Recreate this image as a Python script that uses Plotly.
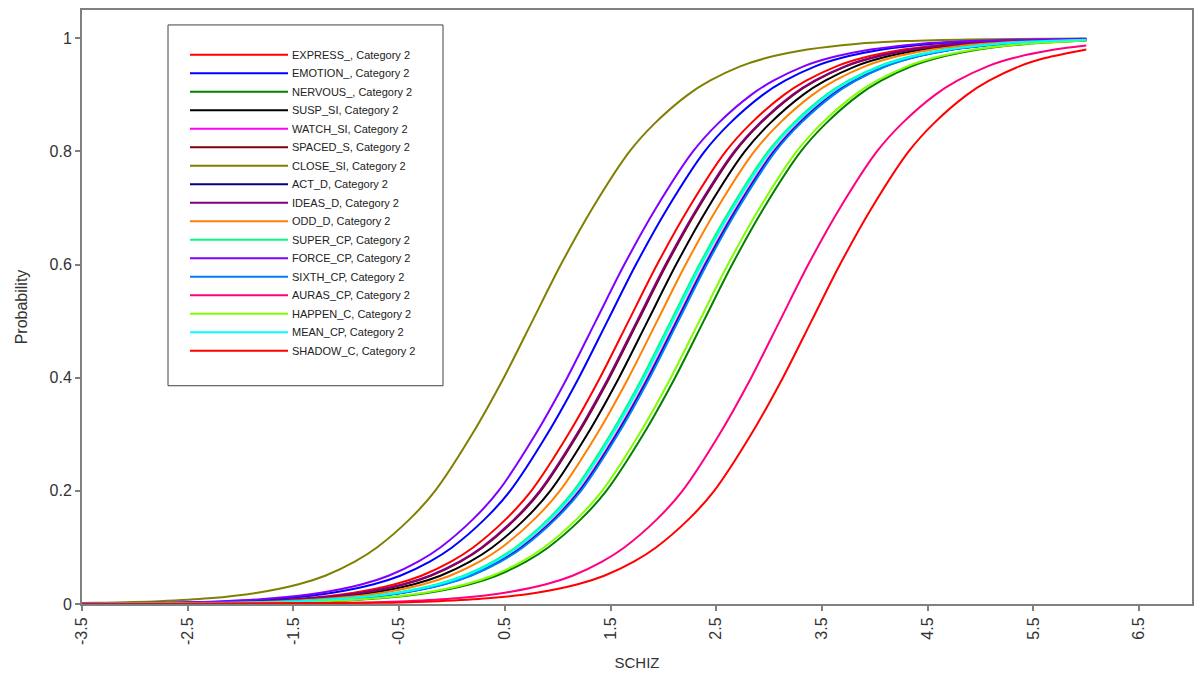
import plotly.graph_objects as go

# ---------------- data ----------------
SERIES = ["EXPRESS_", "EMOTION_", "NERVOUS_", "SUSP_SI", "WATCH_SI", "SPACED_S",
          "CLOSE_SI", "ACT_D", "IDEAS_D", "ODD_D", "SUPER_CP", "FORCE_CP",
          "SIXTH_CP", "AURAS_CP", "HAPPEN_C", "MEAN_CP", "SHADOW_C"]
COLORS = ["#FF0000", "#0000FF", "#008000", "#000000", "#FF00FF", "#800000",
          "#808000", "#000080", "#800080", "#FF8000", "#00FF80", "#8000FF",
          "#0080FF", "#FF0080", "#80FF00", "#00FFFF", "#FF0000"]

# probability levels, and the SCHIZ value at which each curve reaches them
P_LEVELS = [0.002, 0.005, 0.01, 0.02, 0.035, 0.05, 0.075, 0.1, 0.15, 0.2, 0.3, 0.4, 0.5,
            0.6, 0.7, 0.8, 0.85, 0.9, 0.925, 0.95, 0.965, 0.98, 0.99, 0.995, 0.998]

X_EXPRESS = [-2.47, -1.86, -1.39, -0.93, -0.54, -0.29, -0.01, 0.20, 0.51, 0.75, 1.10, 1.40, 1.67,
             1.94, 2.24, 2.59, 2.83, 3.14, 3.35, 3.63, 3.88, 4.27, 4.73, 5.20, 5.81]
X_EMOTION = [-2.67, -2.06, -1.59, -1.13, -0.74, -0.49, -0.21, 0.00, 0.31, 0.55, 0.90, 1.20, 1.47,
             1.74, 2.04, 2.39, 2.63, 2.94, 3.15, 3.43, 3.68, 4.07, 4.53, 5.00, 5.61]
X_NERVOUS = [-1.76, -1.15, -0.68, -0.22, 0.17, 0.42, 0.70, 0.91, 1.22, 1.46, 1.81, 2.11, 2.38,
             2.65, 2.95, 3.30, 3.54, 3.85, 4.06, 4.34, 4.59, 4.98, 5.44, 5.91, 6.52]
X_SUSP = [-2.29, -1.68, -1.21, -0.75, -0.36, -0.11, 0.17, 0.38, 0.69, 0.93, 1.28, 1.58, 1.85,
          2.12, 2.42, 2.77, 3.01, 3.32, 3.53, 3.81, 4.06, 4.45, 4.91, 5.38, 5.99]
X_WATCH = [-2.02, -1.41, -0.94, -0.48, -0.09, 0.16, 0.44, 0.65, 0.96, 1.20, 1.55, 1.85, 2.12,
           2.39, 2.69, 3.04, 3.28, 3.59, 3.80, 4.08, 4.33, 4.72, 5.18, 5.65, 6.26]
X_SPACED = [-2.38, -1.77, -1.30, -0.84, -0.45, -0.20, 0.08, 0.29, 0.60, 0.84, 1.19, 1.49, 1.76,
            2.03, 2.33, 2.68, 2.92, 3.23, 3.44, 3.72, 3.97, 4.36, 4.82, 5.29, 5.90]
X_CLOSE = [-3.38, -2.77, -2.30, -1.84, -1.45, -1.20, -0.92, -0.71, -0.40, -0.16, 0.19, 0.49, 0.76,
           1.03, 1.33, 1.68, 1.92, 2.23, 2.44, 2.72, 2.97, 3.36, 3.82, 4.29, 4.90]
X_ACT = [-2.01, -1.40, -0.93, -0.47, -0.08, 0.17, 0.45, 0.66, 0.97, 1.21, 1.56, 1.86, 2.13,
         2.40, 2.70, 3.05, 3.29, 3.60, 3.81, 4.09, 4.34, 4.73, 5.19, 5.66, 6.27]
X_IDEAS = [-2.39, -1.78, -1.31, -0.85, -0.46, -0.21, 0.07, 0.28, 0.59, 0.83, 1.18, 1.48, 1.75,
           2.02, 2.32, 2.67, 2.91, 3.22, 3.43, 3.71, 3.96, 4.35, 4.81, 5.28, 5.89]
X_ODD = [-2.20, -1.59, -1.12, -0.66, -0.27, -0.02, 0.26, 0.47, 0.78, 1.02, 1.37, 1.67, 1.94,
         2.21, 2.51, 2.86, 3.10, 3.41, 3.62, 3.90, 4.15, 4.54, 5.00, 5.47, 6.08]
X_SUPER = [-2.07, -1.46, -0.99, -0.53, -0.14, 0.11, 0.39, 0.60, 0.91, 1.15, 1.50, 1.80, 2.07,
           2.34, 2.64, 2.99, 3.23, 3.54, 3.75, 4.03, 4.28, 4.67, 5.13, 5.60, 6.21]
X_FORCE = [-2.78, -2.17, -1.70, -1.24, -0.85, -0.60, -0.32, -0.11, 0.20, 0.44, 0.79, 1.09, 1.36,
           1.63, 1.93, 2.28, 2.52, 2.83, 3.04, 3.32, 3.57, 3.96, 4.42, 4.89, 5.50]
X_SIXTH = [-2.00, -1.39, -0.92, -0.46, -0.07, 0.18, 0.46, 0.67, 0.98, 1.22, 1.57, 1.87, 2.14,
           2.41, 2.71, 3.06, 3.30, 3.61, 3.82, 4.10, 4.35, 4.74, 5.20, 5.67, 6.28]
X_AURAS = [-1.04, -0.43, 0.04, 0.50, 0.89, 1.14, 1.42, 1.63, 1.94, 2.18, 2.53, 2.83, 3.10,
           3.37, 3.67, 4.02, 4.26, 4.57, 4.78, 5.06, 5.31, 5.70, 6.16, 6.63, 7.24]
X_HAPPEN = [-1.80, -1.19, -0.72, -0.26, 0.13, 0.38, 0.66, 0.87, 1.18, 1.42, 1.77, 2.07, 2.34,
            2.61, 2.91, 3.26, 3.50, 3.81, 4.02, 4.30, 4.55, 4.94, 5.40, 5.87, 6.48]
X_MEAN = [-2.05, -1.44, -0.97, -0.51, -0.12, 0.13, 0.41, 0.62, 0.93, 1.17, 1.52, 1.82, 2.09,
          2.36, 2.66, 3.01, 3.25, 3.56, 3.77, 4.05, 4.30, 4.69, 5.15, 5.62, 6.23]
X_SHADOW = [-0.74, -0.13, 0.34, 0.80, 1.19, 1.44, 1.72, 1.93, 2.24, 2.48, 2.83, 3.13, 3.40,
            3.67, 3.97, 4.32, 4.56, 4.87, 5.08, 5.36, 5.61, 6.00, 6.46, 6.93, 7.54]

X_AT_LEVELS = [X_EXPRESS, X_EMOTION, X_NERVOUS, X_SUSP, X_WATCH, X_SPACED, X_CLOSE, X_ACT,
               X_IDEAS, X_ODD, X_SUPER, X_FORCE, X_SIXTH, X_AURAS, X_HAPPEN, X_MEAN, X_SHADOW]

X_START, X_END = -3.5, 6.0
# probability at the first (SCHIZ=-3.5) and last (SCHIZ=6) plotted point of each curve
P_START = [0.00043, 0.00058, 0.00015, 0.00033, 0.00022, 0.00037, 0.00168, 0.00021, 0.00038,
           0.00029, 0.00024, 0.00068, 0.00021, 0.00005, 0.00016, 0.00023, 0.00003]
P_END = [0.9985, 0.9989, 0.9956, 0.9980, 0.9970, 0.9983, 0.9996, 0.9970, 0.9983,
         0.9977, 0.9972, 0.9991, 0.9970, 0.9873, 0.9959, 0.9972, 0.9802]

X_TICKS = [-3.5, -2.5, -1.5, -0.5, 0.5, 1.5, 2.5, 3.5, 4.5, 5.5, 6.5]
Y_TICKS = [0, 0.2, 0.4, 0.6, 0.8, 1]

# ---------------- figure ----------------
FONT = "Liberation Sans, Arial, sans-serif"
W, H = 1202, 677
OFF = 8  # page body margin of the browser
ML, MR, MT, MB = 74, 18, 0, 81
PW, PH = W - ML - MR, H - MT - MB

fig = go.Figure()
for name, color, xl, p0, p1 in zip(SERIES, COLORS, X_AT_LEVELS, P_START, P_END):
    xs = [X_START]
    ps = [p0]
    for x, p in zip(xl, P_LEVELS):
        if X_START + 0.05 < x < X_END - 0.05:
            xs.append(x)
            ps.append(p)
    xs.append(X_END)
    ps.append(p1)
    fig.add_trace(go.Scatter(x=xs, y=ps, mode="lines", name=f"{name}, Category 2",
                             line=dict(color=color, width=2, shape="spline", smoothing=0.8),
                             showlegend=False))

TXT = "#333333"
axis_common = dict(showgrid=False, zeroline=False, showline=True, linecolor="#808080",
                   linewidth=2, mirror=True, ticks="outside", ticklen=5, tickwidth=1.5,
                   tickcolor="#808080", tickfont=dict(family=FONT, size=16, color=TXT))

fig.update_xaxes(range=[-3.5, 7.0], tickvals=X_TICKS, ticktext=[str(v) for v in X_TICKS],
                 tickangle=-90, title=dict(text="SCHIZ", font=dict(family=FONT, size=15, color=TXT),
                                           standoff=14), **axis_common)
fig.update_yaxes(range=[0, 1.05], tickvals=Y_TICKS, ticktext=["0", "0.2", "0.4", "0.6", "0.8", "1"],
                 title=dict(text="Probability", font=dict(family=FONT, size=16, color=TXT),
                            standoff=18), **axis_common)

# ---------------- legend box (drawn as in the reference) ----------------
def px2paper_x(px):
    return (px - OFF - ML) / PW

def px2paper_y(py):
    return (H - MB - (py - OFF)) / PH

shapes = [dict(type="rect", xref="paper", yref="paper",
               x0=px2paper_x(168), x1=px2paper_x(443), y0=px2paper_y(385), y1=px2paper_y(23),
               line=dict(color="#404040", width=1), fillcolor="white", layer="above")]
annotations = []
row0, step = 53, 18.56
for i, (name, color) in enumerate(zip(SERIES, COLORS)):
    yy = px2paper_y(row0 + i * step)
    shapes.append(dict(type="line", xref="paper", yref="paper",
                       x0=px2paper_x(190), x1=px2paper_x(288), y0=yy, y1=yy,
                       line=dict(color=color, width=2), layer="above"))
    annotations.append(dict(xref="paper", yref="paper", x=px2paper_x(290), y=yy,
                            xanchor="left", yanchor="middle", showarrow=False,
                            text=f"{name}, Category 2",
                            font=dict(family=FONT, size=11, color="#222222")))

fig.update_layout(width=W, height=H, margin=dict(l=ML, r=MR, t=MT, b=MB),
                  plot_bgcolor="white", paper_bgcolor="white", showlegend=False,
                  shapes=shapes, annotations=annotations,
                  font=dict(family=FONT, size=14, color=TXT))

fig.write_html("out.html")
